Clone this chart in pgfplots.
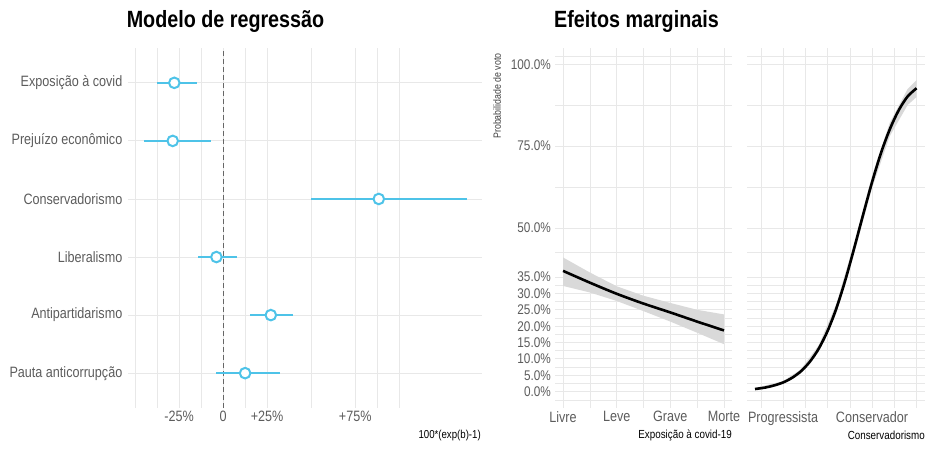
\documentclass[border=0pt]{standalone}
\usepackage{fontspec}
\setmainfont{Liberation Sans}[FakeStretch=0.84]
\usepackage{pgfplots}
\usepackage{pgfplotstable}
\pgfplotsset{compat=1.18}
\definecolor{ciblue}{HTML}{4EC3E8}
\definecolor{gridgray}{HTML}{E8E8E8}
\definecolor{ticktext}{HTML}{5C5C5C}
\definecolor{ribbon}{HTML}{D9D9D9}

\pgfplotsset{minimal/.style={
  scale only axis,
  anchor=south west,
  axis line style={draw=none},
  tick style={draw=none},
  major grid style={draw=gridgray, line width=0.9pt},
  minor grid style={draw=gridgray, line width=0.6pt},
  tick label style={text=ticktext},
  xticklabel style={font=\fontsize{15}{18}\selectfont, inner sep=3pt},
  yticklabel style={font=\fontsize{14}{17}\selectfont, inner sep=4pt},
}}

% coefficient estimates, 100*(exp(b)-1)
\pgfplotstableread{
y est ep em
6 -27.7 12.7 9.8
5 -28.6 21.6 16.2
4 88.4 50.0 38.7
3 -3.8 11.6 10.4
2 27.1 12.7 11.7
1 12.5 19.9 16.7
}\coefs

\pgfplotstableread{
x est
1   36.9
1.5 33.3
2   29.9
2.5 26.9
3   24.2
3.5 21.4
4   18.7
}\covid

\pgfplotstableread{
x est
-0.63 0.8
-0.4 1.25
-0.2 1.9
0    2.8
0.2  4.2
0.4  6.2
0.6  9.1
0.8  13.1
1.0  18.5
1.2  25.5
1.4  34.1
1.6  43.9
1.8  54.1
2.0  64.0
2.2  72.9
2.4  80.2
2.6  86.0
2.8  90.2
3.0  92.7
}\conserv

\begin{document}
\begin{tikzpicture}
\useasboundingbox (0,0) rectangle (932pt,453pt);

% ---- regression model
\begin{axis}[minimal,
  at={(128pt,45pt)}, width=354pt, height=360pt,
  xmin=-54, xmax=147, ymin=0.4, ymax=6.6,
  xtick={-25,0,25,75}, xticklabels={-25\%,0,+25\%,+75\%},
  minor xtick={-50,-37.5,-12.5,12.5,50,87.5,100},
  ytick={1,2,3,4,5,6},
  yticklabels={Pauta anticorrupção,Antipartidarismo,Liberalismo,Conservadorismo,Prejuízo econômico,Exposição à covid},
  yticklabel style={font=\fontsize{15}{18}\selectfont, inner sep=5.5pt},
  xmajorgrids, xminorgrids, ymajorgrids,
]
\addplot[draw=black!60, line width=0.8pt, dash pattern=on 5pt off 3pt] coordinates {(0,0.4) (0,6.6)};
\addplot[draw=none, mark=none,
  error bars/.cd, x dir=both, x explicit, error mark=none,
  error bar style={ciblue, line width=2.6pt}]
  table[x=est, y=y, x error plus=ep, x error minus=em] {\coefs};
\addplot[only marks, mark=*, mark size=5.3pt,
  mark options={draw=ciblue, fill=white, line width=2pt}]
  table[x=est, y=y] {\coefs};
\end{axis}

% ---- marginal effects: covid exposure
\begin{axis}[minimal,
  at={(555pt,45pt)}, width=177pt, height=360pt,
  xmin=0.85, xmax=4.15, ymin=-5, ymax=105,
  xtick={1,2,3,4}, xticklabels={Livre,Leve,Grave,Morte},
  minor xtick={1.5,2.5,3.5},
  ytick={0,5,10,15,20,25,30,35,50,75,100},
  yticklabels={0.0\%,5.0\%,10.0\%,15.0\%,20.0\%,25.0\%,30.0\%,35.0\%,50.0\%,75.0\%,100.0\%},
  minor ytick={-2.5,2.5,7.5,12.5,17.5,22.5,27.5,32.5,42.5,62.5,87.5,102.5},
  grid=both,
]
% confidence ribbon: upper edge left to right, then lower edge back
\addplot[fill=ribbon, draw=none] coordinates {
  (1,41.0) (1.5,36.4) (2,32.2) (2.5,29.3) (3,27.1) (3.5,25.0) (4,23.6)
  (4,14.5) (3.5,18.0) (3,21.4) (2.5,24.6) (2,27.7) (1.5,30.3) (1,32.3)};
\addplot[black, line width=2.6pt, smooth] table[x=x, y=est] {\covid};
\end{axis}

% ---- marginal effects: conservatism
\begin{axis}[minimal,
  at={(747pt,45pt)}, width=178pt, height=360pt,
  xmin=-0.81, xmax=3.19, ymin=-5, ymax=105,
  xtick={0,1,2,3}, xticklabels={Progressista,,Conservador,},
  minor xtick={-0.5,0.5,1.5,2.5},
  ytick={0,5,10,15,20,25,30,35,50,75,100}, yticklabels={},
  minor ytick={-2.5,2.5,7.5,12.5,17.5,22.5,27.5,32.5,42.5,62.5,87.5,102.5},
  grid=both,
]
\addplot[fill=ribbon, draw=none] coordinates {
  (-0.63,1.1) (0,3.2) (0.4,6.8) (0.8,14.1) (1.2,26.9) (1.6,45.5) (2.0,65.8)
  (2.4,82.2) (2.8,92.5) (3.0,95.2)
  (3.0,90.0) (2.8,87.6) (2.4,78.1) (2.0,62.2) (1.6,42.3) (1.2,24.1) (0.8,12.1)
  (0.4,5.6) (0,2.4) (-0.63,0.6)};
\addplot[black, line width=2.6pt, smooth] table[x=x, y=est] {\conserv};
\end{axis}

% ---- titles and axis titles
\node[font=\fontsize{23.5}{28}\selectfont\bfseries] at (225.5pt,432pt) {Modelo de regressão};
\node[font=\fontsize{23.5}{28}\selectfont\bfseries] at (636.5pt,432pt) {Efeitos marginais};
\node[anchor=east, font=\fontsize{11.5}{13}\selectfont, inner sep=0pt] at (481pt,17pt) {100*(exp(b)-1)};
\node[anchor=east, font=\fontsize{11.7}{13}\selectfont, inner sep=0pt] at (732pt,18pt) {Exposição à covid-19};
\node[anchor=east, font=\fontsize{11.7}{13}\selectfont, inner sep=0pt] at (925pt,18pt) {Conservadorismo};
\node[rotate=90, font=\fontsize{10.5}{12}\selectfont, text=black!75, inner sep=0pt] at (497pt,357pt) {Probabilidade de voto};
\end{tikzpicture}
\end{document}
